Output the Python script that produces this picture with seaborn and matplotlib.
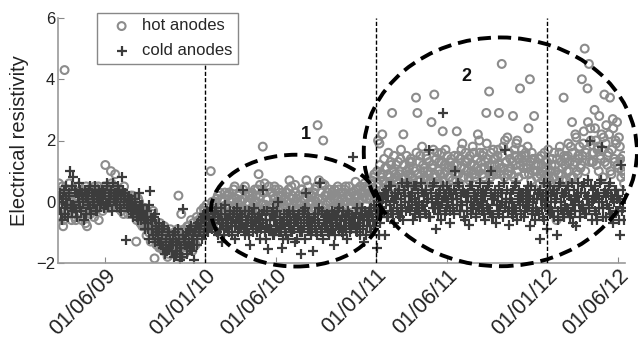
import pandas as pd
import matplotlib
matplotlib.use("Agg")
import matplotlib.pyplot as plt
import matplotlib.dates as mdates
from matplotlib.patches import Ellipse
import seaborn as sns

# ==========================================
# DATA (readings every 3 days, two anodes per group)
# ==========================================
step_days = 3
first_day_a = "2009-02-23"
first_day_b = "2009-02-24"

hot_values_a = [
    # 2009
    0.6, -0.5, 0.2, -0.8, 4.3, 0.0, 0.4, -0.3, 0.1, -0.6,
    -0.2, 0.3, -0.6, 0.1, 0.5, -0.4, 0.0, -0.1, 0.3, -0.7,
    -0.8, 0.2, -0.3, 0.4, 0.0, -0.5, 0.3, -0.1, 0.5, 0.1,
    0.2, -0.3, 0.4, 1.2, 0.0, 0.3, -0.2, 1.0, 0.5, 0.1,
    0.9, 0.2, -0.2, 0.4, 0.0, 0.3, -0.4, 0.1, -0.1, 0.2,
    -0.1, 0.2, -0.4, 0.1, -0.2, -1.3, -0.5, 0.0, -0.7, -0.3,
    -0.5, -0.2, -0.8, -0.4, -1.0, -0.6, -0.9, -0.3, -1.85, -1.2,
    -0.9, -1.3, -0.7, -1.5, -1.1, -0.8, -1.4, -1.0, -1.7, -1.2,
    -1.2, -1.6, -1.0, -1.4, -1.1, 0.2, -1.8, -0.4, -1.5, -0.9,
    -1.0, -1.4, -0.8, -1.2, -0.6, -1.6, -0.9, -1.1, -0.5, -0.8,
    -0.6, -0.3, -0.9, -0.2, -0.5, -0.1, -0.7, -0.4, 1.0, 0.0,
    # 2010
    -0.3, 0.0, -0.6, 0.2, -0.2, -0.8, 0.1, -0.4, 0.3, -0.1,
    -0.1, 0.3, -0.4, 0.1, -0.2, 0.5, -0.5, 0.0, 0.2, -0.3,
    0.0, 0.4, -0.3, 0.2, -0.1, 0.3, -0.4, 0.1, -0.2, 0.0,
    0.2, -0.2, 0.9, 0.55, -0.5, 1.8, 0.3, -0.1, 0.1, -0.3,
    -0.2, 0.3, -0.4, 0.1, 0.4, -0.1, 0.2, -0.6, 0.0, 0.3,
    0.1, -0.2, 0.3, 0.0, 0.7, -0.4, 0.2, -0.1, 0.55, 0.1,
    -0.3, 0.2, 0.0, 0.4, -0.2, 0.1, 0.7, -0.5, 0.3, -0.1,
    0.2, -0.2, 0.4, 0.0, 2.5, 0.7, -0.3, 0.1, 2.0, 0.55,
    -0.1, 0.3, -0.4, 0.0, 0.2, -0.2, 0.4, -0.5, 0.1, 0.4,
    0.0, -0.3, 0.3, -0.1, 0.5, -0.4, 0.2, 0.1, -0.2, 0.3,
    0.2, 0.65, -0.1, 0.4, 0.0, 0.3, -0.3, 0.15, 0.5, 0.1,
    0.4, 0.1, 0.6, 0.3, 0.8, 0.2, 0.5, 2.0, 1.9, 0.9,
    # 2011
    2.2, 0.7, 1.1, 0.4, 0.9, 0.6, 1.3, 2.9, 1.0, 0.8,
    1.2, 0.6, 0.9, 1.4, 0.5, 2.2, 0.8, 1.0, 0.4, 1.1,
    0.9, 1.3, 0.6, 1.0, 3.4, 2.9, 0.7, 1.5, 0.5, 1.2,
    1.1, 0.7, 1.4, 0.9, 0.6, 2.6, 1.2, 3.5, 0.8, 1.6,
    1.0, 0.6, 1.3, 2.3, 0.9, 1.7, 0.5, 1.1, 0.8, 1.4,
    0.7, 1.2, 0.9, 2.3, 1.5, 0.6, 1.1, 1.9, 0.8, 1.3,
    1.0, 1.4, 0.7, 1.2, 0.9, 1.6, 0.8, 1.1, 2.2, 2.0,
    1.3, 0.9, 1.6, 1.1, 2.9, 1.4, 3.6, 0.8, 1.0, 1.7,
    1.2, 0.9, 1.5, 2.9, 1.1, 4.5, 1.8, 0.8, 1.3, 2.1,
    1.0, 1.4, 0.9, 2.8, 1.7, 1.2, 2.0, 0.8, 3.7, 1.5,
    1.3, 0.9, 1.6, 1.1, 2.4, 4.0, 0.7, 1.4, 2.8, 1.0,
    0.8, 1.2, 0.6, 1.5, 1.0, 0.4, 1.3, 0.9, 1.7, 0.7,
    # 2012
    1.0, 1.4, 0.8, 1.2, -0.6, 0.6, 1.6, 0.9, 1.1, 3.4,
    1.2, 0.7, 1.5, 1.0, 1.8, 2.6, 0.8, 1.3, 2.1, 0.9,
    1.4, 1.1, 4.0, 1.9, 5.0, 1.6, 3.7, 4.5, 2.4, 1.3,
    1.3, 3.0, 2.0, 1.7, 1.0, 1.5, 2.2, 0.8, 3.5, 1.9,
    1.2, 1.6, 3.4, 0.9, 2.7, 1.4, 2.0, 2.6, 1.1, 1.8,
    0.8, 1.3, 0.6,
]

hot_values_b = [
    # 2009
    0.3, -0.2, 0.5, -0.6, 0.1, -0.4, 0.2, 0.6, -0.1, 0.0,
    0.4, -0.5, 0.1, -0.2, 0.3, 0.0, -0.6, 0.2, -0.3, 0.5,
    0.0, 0.4, -0.4, 0.2, -0.2, 0.5, -0.1, 0.3, -0.6, 0.2,
    0.3, 0.0, 0.5, -0.2, 0.2, 0.4, 0.0, 0.6, -0.1, 0.3,
    0.1, 0.4, 0.0, 0.3, -0.3, 0.2, 0.5, -0.2, 0.1, -0.4,
    0.0, -0.4, 0.2, -0.3, -0.1, -0.6, 0.1, -0.5, -0.2, -0.8,
    -0.7, -0.3, -1.1, -0.5, -0.8, -1.3, -0.4, -1.0, -0.6, -1.4,
    -1.1, -1.5, -0.9, -1.3, -1.6, -1.0, -1.2, -1.8, -1.4, -0.9,
    -1.5, -1.1, -1.7, -1.3, -0.9, -1.6, -1.2, -1.4, -1.0, -1.7,
    -1.2, -0.8, -1.5, -1.0, -1.3, -0.7, -1.1, -1.4, -0.9, -0.6,
    -0.8, -0.5, -0.7, -0.3, -0.9, -0.4, -0.6, -0.2, -0.5, -0.3,
    # 2010
    -0.1, -0.5, 0.1, -0.3, 0.3, -0.2, -0.6, 0.0, -0.4, 0.2,
    0.2, -0.2, 0.0, -0.5, 0.4, -0.1, 0.1, -0.4, 0.3, -0.2,
    -0.2, 0.1, 0.5, -0.3, 0.0, 0.2, -0.5, 0.3, -0.1, 0.4,
    0.0, 0.4, -0.3, 0.2, -0.1, 0.3, 0.6, -0.2, 0.1, 0.5,
    0.3, -0.1, 0.2, 0.5, -0.3, 0.0, 0.4, -0.2, 0.2, -0.4,
    -0.1, 0.3, 0.0, 0.4, -0.2, 0.5, 0.1, -0.3, 0.3, 0.0,
    0.2, -0.1, 0.4, -0.3, 0.1, 0.3, -0.2, 0.5, 0.0, 0.2,
    0.0, 0.3, -0.2, 0.5, 0.1, -0.1, 0.3, 0.6, -0.3, 0.2,
    0.2, 0.0, 0.4, -0.2, 0.3, 0.1, -0.3, 0.2, 0.5, -0.1,
    0.3, 0.1, -0.2, 0.4, 0.0, 0.2, 0.5, -0.1, 0.3, 0.0,
    0.0, 0.4, 0.2, -0.2, 0.5, 0.1, 0.3, 0.6, -0.1, 0.4,
    0.5, 0.2, 0.7, 0.4, 0.9, 0.3, 1.0, 0.6, 1.2, 0.8,
    # 2011
    0.9, 1.4, 0.6, 1.1, 1.6, 0.8, 1.2, 0.5, 1.5, 0.9,
    0.7, 1.3, 1.0, 1.7, 0.8, 1.2, 0.6, 1.5, 0.9, 1.3,
    1.4, 0.8, 1.1, 0.5, 1.6, 0.9, 1.3, 0.7, 1.8, 1.0,
    0.8, 1.5, 1.0, 1.3, 0.7, 1.1, 1.7, 0.9, 1.4, 0.6,
    1.3, 0.9, 1.6, 0.7, 1.2, 1.0, 1.5, 0.8, 1.3, 1.1,
    1.0, 1.5, 0.7, 1.2, 0.9, 1.4, 1.7, 0.8, 1.1, 1.6,
    1.3, 0.8, 1.5, 1.0, 1.8, 1.2, 0.9, 1.4, 1.0, 1.6,
    1.1, 1.5, 0.8, 1.3, 1.9, 1.0, 1.2, 1.6, 0.9, 1.4,
    1.4, 1.0, 1.7, 1.2, 0.9, 1.5, 1.1, 2.0, 1.3, 0.9,
    1.6, 1.1, 1.3, 0.8, 1.5, 1.9, 1.0, 1.4, 1.2, 1.7,
    1.1, 1.5, 1.2, 1.8, 0.9, 1.3, 1.6, 1.0, 1.4, 1.2,
    1.0, 1.4, 0.9, 1.2, 0.7, 1.6, 1.1, 1.3, 0.8, 1.0,
    # 2012
    1.2, 0.8, 1.6, 1.0, 1.4, 0.9, 1.8, 1.3, 0.7, 1.5,
    1.4, 1.0, 1.9, 1.3, 0.8, 1.6, 1.2, 2.2, 1.0, 1.5,
    1.8, 1.2, 1.5, 2.3, 1.0, 1.7, 2.6, 1.3, 2.0, 1.6,
    1.6, 2.4, 1.2, 1.8, 2.8, 1.4, 1.7, 2.1, 1.3, 2.5,
    1.5, 2.2, 1.0, 1.7, 2.4, 1.3, 1.9, 1.2, 2.1, 1.4,
    1.0, 1.5, 0.9,
]

cold_values_a = [
    # 2009
    -0.2, 0.3, -0.6, 0.1, -0.4, 0.5, -0.1, 0.2, 1.0, -0.3,
    0.8, -0.2, 0.3, -0.5, 0.0, 0.4, -0.3, 0.1, -0.6, 0.2,
    0.3, -0.1, 0.5, -0.4, 0.2, 0.0, 0.4, -0.3, 0.1, 0.3,
    0.0, 0.4, -0.2, 0.3, 0.6, -0.1, 0.2, 0.4, -0.3, 0.1,
    0.3, -0.1, 0.2, 0.4, -0.3, 0.8, 0.1, 0.3, -1.25, -0.2,
    0.2, -0.3, 0.0, -0.5, 0.1, -0.2, -0.6, 0.3, -0.4, -0.1,
    -0.3, -0.7, -0.5, -0.9, -0.1, 0.35, -0.6, -1.1, -0.4, -0.8,
    -1.0, -0.7, -1.3, -0.9, -1.5, -0.8, -1.2, -1.6, -1.0, -1.3,
    -1.4, -1.1, -1.8, -1.3, -1.6, -0.9, -1.9, -1.5, -0.25, -1.2,
    -1.3, -1.7, -1.0, -1.5, -0.8, -1.2, -1.9, -1.0, -1.4, -0.7,
    -0.9, -0.6, -1.2, -0.4, -0.8, -0.3, -1.0, -0.6, -0.2, -0.9,
    # 2010
    -0.5, -0.9, -0.2, -1.1, -0.6, -0.4, -1.3, -0.7, -0.1, -0.8,
    -0.6, -1.0, -0.3, -0.8, -0.5, -1.2, -0.7, -0.2, -0.9, -0.4,
    -0.7, 0.4, -1.1, -0.6, -0.9, -0.3, -1.4, -0.5, -0.8, -0.2,
    -0.7, -1.0, -0.4, -0.6, -0.9, 0.4, -0.3, -1.2, -0.8, -1.55,
    -0.6, -0.9, -0.2, -1.1, -0.5, -0.8, 0.0, -0.7, -1.0, -1.5,
    -0.4, -0.9, -0.6, -1.2, -0.3, -0.7, -1.0, -0.5, -1.3, -0.6,
    -0.8, -0.4, -1.7, -1.0, -0.6, -0.2, 0.3, -0.9, -0.5, -1.1,
    -0.7, -1.6, -0.4, -1.0, -0.6, -0.2, 0.6, -0.9, -1.2, -0.5,
    -0.8, -0.4, -1.1, -0.6, -0.3, -0.9, -1.4, -0.5, -0.7, -0.2,
    -0.6, -1.0, -0.3, -0.8, -0.5, -1.2, -0.4, -0.7, -0.9, 1.45,
    -0.5, -0.9, -0.2, -0.7, -1.1, -0.4, -0.6, -1.3, -0.3, -0.8,
    -0.6, -0.3, -1.0, -0.5, -0.1, -0.8, -1.5, -0.4, -1.1, 0.1,
    # 2011
    -0.2, 0.3, -1.1, 0.0, -0.5, 0.5, -0.3, 0.2, -0.7, 0.1,
    0.1, -0.4, 0.4, -0.1, 0.6, -0.6, 0.2, -0.3, 0.5, 0.0,
    -0.3, 0.3, -0.6, 0.1, 0.5, -0.2, 0.0, -0.5, 0.4, -0.1,
    0.2, -0.4, 0.0, 1.7, -0.5, 0.3, -0.2, 0.6, -0.9, 0.1,
    -0.1, 0.4, -0.6, 2.9, 0.2, -0.3, 0.5, 0.0, -0.7, 0.3,
    -0.2, 0.4, 1.0, 0.1, 0.6, -0.3, 0.2, -0.1, 0.3, -0.6,
    0.0, 0.3, -0.75, -0.4, 0.5, -0.1, 0.2, -0.5, 0.4, -0.2,
    0.3, -0.3, 0.0, -0.6, 0.4, -0.2, 0.6, 1.0, 0.1, -0.5,
    0.2, -0.7, -0.3, 0.5, -0.1, 0.3, -0.5, 1.7, 0.0, 0.4,
    -0.75, 0.1, -0.4, 0.4, -0.2, 0.6, -0.6, 0.2, -0.1, 0.3,
    0.0, -0.5, 0.4, -0.2, 0.2, -0.8, 0.5, -0.3, 0.1, -0.6,
    -0.3, 0.3, -1.2, 0.1, -0.5, 0.6, -0.1, -0.9, 0.2, -0.4,
    # 2012
    0.2, -0.3, 0.4, 0.0, -1.1, -0.6, 0.5, -0.2, 0.3, -0.5,
    -0.1, 0.4, -0.3, 0.2, -0.4, 0.6, -0.7, 0.1, -0.8, 0.3,
    0.0, -0.5, 0.5, -0.2, 0.3, -0.4, 0.7, -0.1, 2.0, -0.6,
    0.4, -0.3, 0.2, -0.6, 0.1, 0.6, 1.8, -0.2, 0.3, -0.5,
    -0.1, 0.5, -0.4, 0.2, -0.7, 0.0, 0.4, 0.1, -0.3, -1.1,
    1.2, -0.2, -0.6,
]

cold_values_b = [
    # 2009
    0.2, -0.4, 0.0, 0.4, -0.2, 0.1, -0.5, 0.3, -0.1, 0.5,
    -0.1, 0.4, -0.3, 0.2, 0.6, -0.2, 0.3, 0.0, 0.4, -0.4,
    0.1, 0.4, -0.2, 0.3, 0.0, 0.5, -0.3, 0.2, 0.4, -0.1,
    0.4, 0.1, 0.3, -0.1, 0.5, 0.2, 0.0, 0.3, 0.6, 0.2,
    0.0, 0.3, 0.5, -0.2, 0.2, 0.4, 0.0, 0.2, -0.1, 0.1,
    -0.1, 0.1, -0.4, -0.2, 0.0, -0.5, -0.3, -0.1, -0.6, -0.4,
    -0.5, -0.9, -0.3, -0.7, -1.2, -0.6, -0.9, -0.5, -1.3, -1.0,
    -1.2, -0.9, -1.4, -1.1, -0.8, -1.7, -1.3, -1.0, -1.5, -1.2,
    -1.6, -1.3, -1.0, -1.7, -1.4, -1.2, -1.5, -1.8, -1.1, -1.4,
    -1.1, -1.5, -1.3, -0.9, -1.6, -1.1, -1.4, -0.8, -1.2, -1.0,
    -1.0, -0.7, -0.5, -1.1, -0.6, -0.9, -0.4, -0.8, -0.7, -0.5,
    # 2010
    -0.7, -0.3, -1.0, -0.5, -0.9, -0.2, -0.7, -1.1, -0.4, -0.6,
    -0.9, -0.4, -0.7, -1.1, -0.3, -0.8, -0.5, -1.0, -0.6, -0.8,
    -0.5, -0.9, -0.3, -0.8, -0.6, -1.1, -0.7, -0.4, -1.0, -0.6,
    -0.9, -0.5, -0.8, -1.2, -0.4, -0.7, -1.0, -0.6, -0.3, -0.9,
    -0.8, -0.4, -1.1, -0.6, -0.9, -0.3, -1.0, -0.5, -0.7, -1.2,
    -0.7, -1.1, -0.4, -0.8, -0.5, -1.0, -0.3, -0.9, -0.6, -1.2,
    -0.5, -1.0, -0.7, -0.3, -0.8, -1.2, -0.6, -0.4, -0.9, -0.7,
    -0.9, -0.5, -0.8, -1.1, -0.4, -0.7, -1.0, -0.3, -0.6, -0.8,
    -0.6, -1.0, -0.5, -0.9, -0.7, -0.4, -1.1, -0.8, -0.3, -0.9,
    -0.8, -0.5, -1.1, -0.6, -0.9, -0.3, -0.7, -1.0, -0.5, -0.7,
    -0.7, -0.4, -1.0, -0.5, -0.8, -0.2, -0.9, -0.6, -1.1, -0.5,
    -0.4, -0.8, -0.2, -0.6, -0.9, -0.3, -0.5, 0.0, -0.7, -0.2,
    # 2011
    0.1, -0.3, 0.4, -0.5, 0.2, -0.1, 0.5, -0.4, 0.0, 0.3,
    -0.2, 0.3, -0.5, 0.1, -0.3, 0.4, 0.0, 0.6, -0.2, 0.2,
    0.2, -0.1, 0.5, -0.4, 0.0, 0.3, -0.3, 0.6, -0.1, 0.2,
    -0.3, 0.4, 0.1, -0.5, 0.3, 0.0, 0.5, -0.2, 0.2, -0.4,
    0.3, -0.2, 0.0, 0.5, -0.4, 0.2, -0.1, 0.4, -0.3, 0.1,
    0.1, -0.4, 0.3, -0.1, 0.5, -0.3, 0.0, 0.4, -0.5, 0.2,
    -0.3, 0.2, 0.5, 0.0, -0.2, 0.3, -0.4, 0.1, -0.1, 0.6,
    0.0, 0.4, -0.4, 0.2, -0.1, 0.5, -0.3, 0.3, -0.5, 0.1,
    0.4, -0.1, 0.2, -0.4, 0.3, 0.0, 0.6, -0.2, 0.1, -0.3,
    -0.2, 0.3, 0.0, -0.5, 0.5, -0.3, 0.1, 0.4, -0.4, 0.2,
    0.3, -0.3, 0.1, 0.5, -0.1, 0.2, -0.4, 0.0, 0.4, -0.2,
    0.1, -0.4, 0.4, -0.2, 0.2, -0.6, 0.3, 0.0, -0.3, 0.5,
    # 2012
    -0.2, 0.4, -0.5, 0.1, 0.3, -0.3, 0.6, 0.0, -0.4, 0.2,
    0.3, -0.2, 0.5, -0.5, 0.1, -0.1, 0.4, -0.3, 0.2, 0.6,
    -0.3, 0.3, -0.1, 0.6, -0.4, 0.1, 0.2, -0.2, 0.5, 0.0,
    0.1, 0.5, -0.4, 0.3, -0.2, 0.7, 0.0, -0.5, 0.4, 0.2,
    0.3, -0.2, 0.6, -0.5, 0.1, 0.4, -0.3, 0.2, -0.6, 0.0,
    -0.3, 0.4, 0.1,
]

tick_dates = ["2009-06-01", "2010-01-01", "2010-06-01", "2011-01-01",
              "2011-06-01", "2012-01-01", "2012-06-01"]
year_marks = ["2010-01-01", "2011-01-01", "2012-01-01"]

# zones circled on the figure
zone_names = ["1", "2"]
zone_centers = ["2010-07-14", "2011-09-23"]
zone_widths = [363, 583]      # days
zone_levels = [-0.29, 1.63]
zone_heights = [3.65, 7.47]
zone_label_dates = ["2010-08-03", "2011-07-12"]
zone_label_levels = [2.19, 4.08]


def series_frame(start, values):
    dates = pd.date_range(start, periods=len(values), freq=f"{step_days}D")
    return pd.DataFrame({"date": dates, "value": values})


# ==========================================
# FIGURE
# ==========================================
sns.set_theme(style="white")
plt.rcParams["font.family"] = ["Liberation Sans", "DejaVu Sans"]

hot_df = pd.concat([series_frame(first_day_a, hot_values_a),
                    series_frame(first_day_b, hot_values_b)], ignore_index=True)
cold_df = pd.concat([series_frame(first_day_a, cold_values_a),
                     series_frame(first_day_b, cold_values_b)], ignore_index=True)

fig = plt.figure(figsize=(6.38, 3.41), dpi=100)
ax = fig.add_axes([58 / 638, 1 - 263 / 341, (625 - 58) / 638, (263 - 18) / 341])

sns.scatterplot(data=hot_df, x="date", y="value", marker="o", s=32,
                color="#8c8c8c", facecolor="none", edgecolor="#8c8c8c",
                linewidth=1.5, label="hot anodes", ax=ax, zorder=2)
sns.scatterplot(data=cold_df, x="date", y="value", marker="+", s=48,
                color="#3c3c3c", linewidth=1.6, label="cold anodes",
                ax=ax, zorder=2.5)

for d in year_marks:
    ax.axvline(pd.Timestamp(d), color="black", lw=1.0, ls=(0, (3, 1.5)), zorder=3)

for c, w, yc, h in zip(zone_centers, zone_widths, zone_levels, zone_heights):
    ax.add_patch(Ellipse((mdates.date2num(pd.Timestamp(c)), yc), w, h,
                         fill=False, ec="black", lw=2.8, ls=(0, (3.4, 1.8)),
                         clip_on=False, zorder=4))
for name, d, y in zip(zone_names, zone_label_dates, zone_label_levels):
    ax.text(pd.Timestamp(d), y, name, fontsize=13, fontweight="bold",
            ha="center", va="center", color="#111111", zorder=5)

ax.set_ylim(-2, 6)
ax.set_yticks([-2, 0, 2, 4, 6])
ax.set_xlim(pd.Timestamp("2009-02-21"), pd.Timestamp("2012-06-15"))
ax.set_xticks([pd.Timestamp(d) for d in tick_dates])
ax.xaxis.set_major_formatter(mdates.DateFormatter("%d/%m/%y"))

ax.set_xlabel("")
ax.set_ylabel("Electrical resistivity", fontsize=14.5, color="#222222")
ax.yaxis.set_label_coords(-0.052, 0.5)

sns.despine(ax=ax)
for side in ["left", "bottom"]:
    ax.spines[side].set_color("#9a9a9a")
    ax.spines[side].set_linewidth(1.2)
ax.tick_params(axis="both", which="major", direction="in", length=4, width=0.8,
               color="#888888", labelcolor="#222222", bottom=True, left=True)
ax.tick_params(axis="y", labelsize=12, pad=2)
ax.tick_params(axis="x", labelsize=15.5, pad=1.5)
plt.setp(ax.get_xticklabels(), rotation=45, ha="right", rotation_mode="anchor")

leg = ax.legend(loc="upper left", bbox_to_anchor=(0.069, 1.02), borderaxespad=0,
                fontsize=12, frameon=True, fancybox=False, framealpha=1,
                edgecolor="#888888", borderpad=0.32, labelspacing=0.6,
                handlelength=2.3, handletextpad=0.1, markerscale=1.0)
leg.get_frame().set_linewidth(1.0)
leg.set_zorder(6)

fig.savefig("out.png", dpi=100)
